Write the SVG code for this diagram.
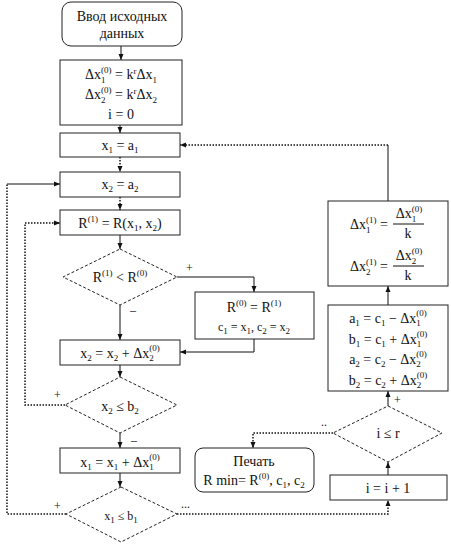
<svg xmlns="http://www.w3.org/2000/svg" width="451" height="546" viewBox="0 0 451 546" font-family="Liberation Serif, DejaVu Serif, serif">
<defs>
<marker id="ah" markerWidth="6" markerHeight="6" refX="6" refY="3" orient="auto" markerUnits="userSpaceOnUse">
<path d="M0,0.5 L6,3 L0,5.5 z" fill="#111"/>
</marker>
<style>
.box{fill:#fff;stroke:#222;stroke-width:1}
.dia{fill:#fff;stroke:#222;stroke-width:1;stroke-dasharray:3,2}
.c{fill:none;stroke:#111;stroke-width:1}
.d{fill:none;stroke:#111;stroke-width:1.5;stroke-dasharray:1.5,1.5}
.t{font-family:'Liberation Serif','DejaVu Serif',serif;font-size:14px;fill:#111}
.m{text-anchor:middle}
.s{font-size:9px}
.lb{font-family:'Liberation Serif','DejaVu Serif',serif;font-size:12px;fill:#111}
</style>
</defs>
<rect width="451" height="546" fill="#fff"/>

<g id="connectors">
<line class="c" x1="121" y1="46" x2="121" y2="60" marker-end="url(#ah)"/>
<line class="c" x1="120" y1="125" x2="120" y2="133" marker-end="url(#ah)"/>
<line class="d" x1="120" y1="157" x2="120" y2="172" marker-end="url(#ah)"/>
<line class="d" x1="120" y1="197" x2="120" y2="210" marker-end="url(#ah)"/>
<line class="c" x1="120" y1="235" x2="120" y2="249" marker-end="url(#ah)"/>
<polyline class="c" points="177,277 254,277 254,292" marker-end="url(#ah)"/>
<line class="c" x1="120" y1="305" x2="120" y2="340" marker-end="url(#ah)"/>
<polyline class="c" points="254,339 254,352 180,352" marker-end="url(#ah)"/>
<line class="c" x1="120" y1="365" x2="120" y2="377" marker-end="url(#ah)"/>
<polyline class="d" points="65,405 25,405 25,223 60,223" marker-end="url(#ah)"/>
<line class="c" x1="120" y1="433" x2="120" y2="448" marker-end="url(#ah)"/>
<line class="c" x1="120" y1="473" x2="120" y2="487" marker-end="url(#ah)"/>
<polyline class="d" points="66,514 7,514 7,184"/>
<line class="c" x1="7" y1="184" x2="60" y2="184" marker-end="url(#ah)"/>
<polyline class="d" points="177,514 388,514 388,500" marker-end="url(#ah)"/>
<line class="c" x1="388" y1="475" x2="388" y2="462" marker-end="url(#ah)"/>
<line class="c" x1="388" y1="406" x2="388" y2="391" marker-end="url(#ah)"/>
<line class="c" x1="388" y1="305" x2="388" y2="286" marker-end="url(#ah)"/>
<line class="c" x1="388" y1="201" x2="388" y2="145"/>
<line class="d" x1="388" y1="145" x2="180" y2="145" marker-end="url(#ah)"/>
<polyline class="d" points="333,433 253,433 253,448" marker-end="url(#ah)"/>
<text class="lb" x="186" y="272">+</text>
<text class="lb" x="130" y="314">–</text>
<text class="lb" x="54" y="399">+</text>
<text class="lb" x="131" y="444">–</text>
<text class="lb" x="54" y="510">+</text>
<text class="lb" x="181" y="508">...</text>
<text class="lb" x="394" y="404">+</text>
<text class="lb" x="321" y="426">..</text>
</g>

<g id="start">
<rect class="box" x="62" y="2" width="120" height="44" rx="9"/>
<text class="t m" x="122" y="21">Ввод исходных</text>
<text class="t m" x="122" y="38">данных</text>
</g>

<g id="init">
<rect class="box" x="60" y="60" width="122" height="65"/>
<text class="t m" x="121" y="79">Δx<tspan class="s" dy="4">1</tspan><tspan class="s" dx="-4.5" dy="-10">(0)</tspan><tspan dy="6"> = k</tspan><tspan class="s" dy="-5">r</tspan><tspan dy="5">Δx</tspan><tspan class="s" dy="4">1</tspan></text>
<text class="t m" x="121" y="99">Δx<tspan class="s" dy="4">2</tspan><tspan class="s" dx="-4.5" dy="-10">(0)</tspan><tspan dy="6"> = k</tspan><tspan class="s" dy="-5">r</tspan><tspan dy="5">Δx</tspan><tspan class="s" dy="4">2</tspan></text>
<text class="t m" x="121" y="119">i = 0</text>
</g>

<g id="x1a1">
<rect class="box" x="60" y="133" width="120" height="24"/>
<text class="t m" x="120" y="150">x<tspan class="s" dy="3">1</tspan><tspan dy="-3"> = a</tspan><tspan class="s" dy="3">1</tspan></text>
</g>

<g id="x2a2">
<rect class="box" x="60" y="172" width="120" height="25"/>
<text class="t m" x="120" y="189">x<tspan class="s" dy="3">2</tspan><tspan dy="-3"> = a</tspan><tspan class="s" dy="3">2</tspan></text>
</g>

<g id="r1">
<rect class="box" x="60" y="210" width="120" height="25"/>
<text class="t m" x="120" y="228">R<tspan class="s" dy="-6">(1)</tspan><tspan dy="6"> = R(x</tspan><tspan class="s" dy="3">1</tspan><tspan dy="-3">, x</tspan><tspan class="s" dy="3">2</tspan><tspan dy="-3">)</tspan></text>
</g>

<g id="cmp1">
<polygon class="dia" points="120,249 177,277 120,305 63,277"/>
<text class="t m" x="120" y="282">R<tspan class="s" dy="-6">(1)</tspan><tspan dy="6"> &lt; R</tspan><tspan class="s" dy="-6">(0)</tspan></text>
</g>

<g id="r0">
<rect class="box" x="195" y="292" width="119" height="47"/>
<text class="t m" x="254" y="312">R<tspan class="s" dy="-6">(0)</tspan><tspan dy="6"> = R</tspan><tspan class="s" dy="-6">(1)</tspan></text>
<text class="t m" x="254" y="331" style="font-size:12px">c<tspan class="s" dy="3">1</tspan><tspan dy="-3"> = x</tspan><tspan class="s" dy="3">1</tspan><tspan dy="-3">, c</tspan><tspan class="s" dy="3">2</tspan><tspan dy="-3"> = x</tspan><tspan class="s" dy="3">2</tspan></text>
</g>

<g id="x2inc">
<rect class="box" x="60" y="340" width="120" height="25"/>
<text class="t m" x="120" y="358">x<tspan class="s" dy="3">2</tspan><tspan dy="-3"> = x</tspan><tspan class="s" dy="3">2</tspan><tspan dy="-3"> + Δx</tspan><tspan class="s" dy="3">2</tspan><tspan class="s" dx="-4.5" dy="-10">(0)</tspan></text>
</g>

<g id="cmp2">
<polygon class="dia" points="120,377 177,405 120,433 65,405"/>
<text class="t m" x="120" y="411">x<tspan class="s" dy="3">2</tspan><tspan dy="-3"> ≤ b</tspan><tspan class="s" dy="3">2</tspan></text>
</g>

<g id="x1inc">
<rect class="box" x="60" y="448" width="120" height="25"/>
<text class="t m" x="120" y="467">x<tspan class="s" dy="3">1</tspan><tspan dy="-3"> = x</tspan><tspan class="s" dy="3">1</tspan><tspan dy="-3"> + Δx</tspan><tspan class="s" dy="3">1</tspan><tspan class="s" dx="-4.5" dy="-10">(0)</tspan></text>
</g>

<g id="cmp3">
<polygon class="dia" points="121,487 177,514 121,542 66,514"/>
<text class="t m" x="121" y="520" style="font-size:12px">x<tspan class="s" dy="3">1</tspan><tspan dy="-3"> ≤ b</tspan><tspan class="s" dy="3">1</tspan></text>
</g>

<g id="dx1">
<rect class="box" x="328" y="201" width="120" height="85"/>
<text class="t" x="350" y="229">Δx<tspan class="s" dy="4">1</tspan><tspan class="s" dx="-4.5" dy="-10">(1)</tspan><tspan dy="6"> =</tspan></text>
<text class="t m" x="409" y="218">Δx<tspan class="s" dy="4">1</tspan><tspan class="s" dx="-4.5" dy="-10">(0)</tspan></text>
<line x1="393" y1="224" x2="424" y2="224" stroke="#111" stroke-width="1"/>
<text class="t m" x="408" y="238">k</text>
<text class="t" x="350" y="271">Δx<tspan class="s" dy="4">2</tspan><tspan class="s" dx="-4.5" dy="-10">(1)</tspan><tspan dy="6"> =</tspan></text>
<text class="t m" x="409" y="260">Δx<tspan class="s" dy="4">2</tspan><tspan class="s" dx="-4.5" dy="-10">(0)</tspan></text>
<line x1="393" y1="266" x2="424" y2="266" stroke="#111" stroke-width="1"/>
<text class="t m" x="408" y="280">k</text>
</g>

<g id="ab">
<rect class="box" x="328" y="305" width="120" height="86"/>
<text class="t m" x="388" y="323">a<tspan class="s" dy="3">1</tspan><tspan dy="-3"> = c</tspan><tspan class="s" dy="3">1</tspan><tspan dy="-3"> − Δx</tspan><tspan class="s" dy="3">1</tspan><tspan class="s" dx="-4.5" dy="-10">(0)</tspan></text>
<text class="t m" x="388" y="344">b<tspan class="s" dy="3">1</tspan><tspan dy="-3"> = c</tspan><tspan class="s" dy="3">1</tspan><tspan dy="-3"> + Δx</tspan><tspan class="s" dy="3">1</tspan><tspan class="s" dx="-4.5" dy="-10">(0)</tspan></text>
<text class="t m" x="388" y="364">a<tspan class="s" dy="3">2</tspan><tspan dy="-3"> = c</tspan><tspan class="s" dy="3">2</tspan><tspan dy="-3"> − Δx</tspan><tspan class="s" dy="3">2</tspan><tspan class="s" dx="-4.5" dy="-10">(0)</tspan></text>
<text class="t m" x="388" y="385">b<tspan class="s" dy="3">2</tspan><tspan dy="-3"> = c</tspan><tspan class="s" dy="3">2</tspan><tspan dy="-3"> + Δx</tspan><tspan class="s" dy="3">2</tspan><tspan class="s" dx="-4.5" dy="-10">(0)</tspan></text>
</g>

<g id="cmp4">
<polygon class="dia" points="388,406 442,433 388,462 333,433"/>
<text class="t m" x="388" y="438">i ≤ r</text>
</g>

<g id="inc">
<rect class="box" x="330" y="475" width="117" height="25"/>
<text class="t m" x="388" y="493">i = i + 1</text>
</g>

<g id="print">
<rect class="box" x="195" y="448" width="119" height="44" rx="8"/>
<text class="t m" x="254" y="466">Печать</text>
<text class="t m" x="254" y="485">R min= R<tspan class="s" dy="-6">(0)</tspan><tspan dy="6">, c</tspan><tspan class="s" dy="3">1</tspan><tspan dy="-3">, c</tspan><tspan class="s" dy="3">2</tspan></text>
</g>
</svg>
